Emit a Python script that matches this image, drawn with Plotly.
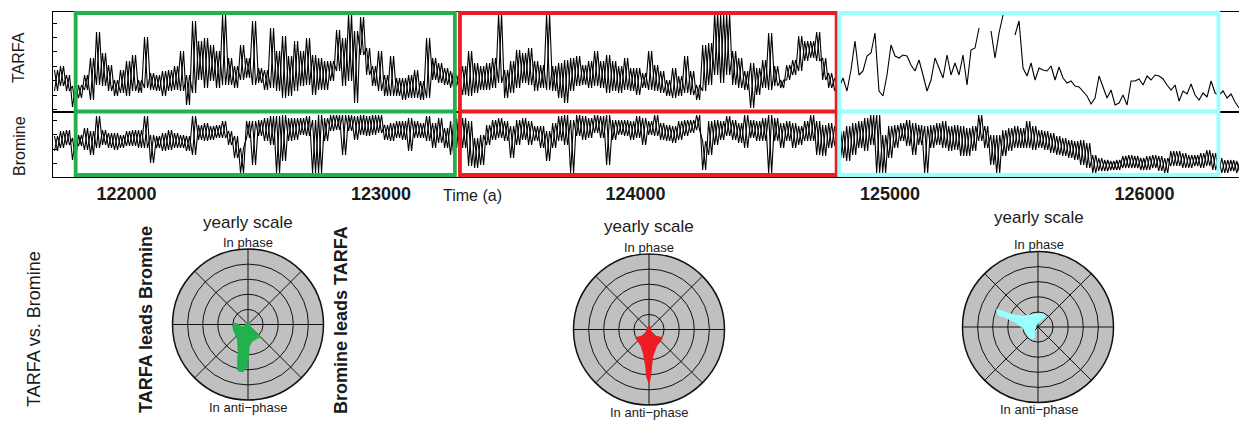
import plotly.graph_objects as go

W, H = 1239, 422

# ---------------- time-series data ----------------
# noisy part is given as the upper / lower envelope of each ~23.6-year bin
T0 = 121711.0          # first year shown
BIN = 23.58            # years per envelope bin
CYAN_T0 = 124815.0     # start of the low-resolution TARFA segment
CYAN_STEP = 15.72      # its sampling step (years)

tarfa_hi = [42, 46, 37, 26, 27, 37, 54, 80, 59, 47, 32, 42, 51, 57, 32, 75, 39, 37, 41, 42, 46, 61, 37, 91, 71, 74, 67, 61, 97, 54, 46, 67, 54,
            91, 44, 42, 84, 61, 76, 56, 71, 61, 74, 57, 54, 51, 51, 82, 74, 98, 81, 95, 64, 46, 61, 37, 56, 34, 34, 37, 42, 31, 74, 54, 49,
            44, 41, 37, 46, 61, 49, 46, 49, 54, 98, 42, 51, 62, 59, 64, 51, 47, 98, 46, 49, 52, 54, 56, 47, 51, 61, 51, 57, 51, 46, 54, 44, 44,
            39, 61, 47, 41, 32, 44, 36, 56, 41, 27, 67, 69, 99, 97, 98, 61, 54, 41, 49, 44, 52, 79, 46, 32, 47, 52, 76, 71, 71, 80, 54, 39, 34]
tarfa_lo = [21, 26, 21, 5, 14, 22, 12, 27, 26, 21, 16, 19, 16, 21, 19, 24, 22, 21, 16, 21, 22, 21, 7, 19, 32, 24, 31, 24, 27, 27, 24, 32, 34,
            27, 29, 22, 24, 21, 14, 16, 21, 26, 27, 17, 22, 22, 31, 41, 26, 31, 9, 57, 37, 26, 21, 16, 16, 16, 12, 14, 14, 12, 14, 32, 29,
            27, 24, 26, 17, 16, 19, 22, 22, 24, 29, 14, 19, 24, 29, 27, 21, 24, 22, 21, 14, 9, 21, 26, 27, 24, 26, 24, 19, 21, 19, 22, 21, 17,
            24, 22, 21, 19, 16, 14, 16, 19, 17, 12, 21, 27, 37, 29, 37, 27, 24, 22, 4, 17, 24, 22, 26, 24, 32, 37, 41, 51, 54, 51, 32, 24, 21]
tarfa_cyan = [34, 21, 42, 71, 37, 41, 56, 59, 79, 21, 16, 37, 67, 56, 54, 57, 56, 47, 41, 52, 37, 21, 32, 54, 44, 34, 57, 37, 49, 37,
              57, 27, 62, 64, 84, None, None, 81, 54, 79, 97, None, None, 77, 91, 44, 36, 49, 32, 44,
              42, 41, 46, 32, 45, 34, 29, 31, 26, 25, 21, 16, 8, 14, 36, 26, 14, 22, 7, 9, 17, 7, 31, 31, 33, 27, 36, 32, 37, 36,
              33, 27, 22, 27, 11, 21, 18, 28, 17, 12, 19, 15, 31, 19, 17, 21, 14, 18, 10, 4]

bromine_hi = [41, 46, 47, 39, 42, 49, 46, 61, 47, 44, 44, 42, 46, 47, 47, 61, 42, 41, 44, 47, 44, 42, 41, 61, 52, 54, 51, 52, 56, 46, 41, 29, 56,
              56, 57, 59, 61, 61, 62, 59, 59, 59, 61, 57, 62, 59, 62, 62, 62, 62, 61, 62, 61, 62, 62, 52, 54, 56, 56, 59, 56, 54, 61, 54, 59,
              49, 56, 59, 59, 56, 39, 42, 52, 57, 59, 56, 51, 57, 59, 56, 51, 51, 46, 54, 61, 62, 57, 62, 61, 59, 62, 61, 62, 57, 57, 57, 56, 61,
              59, 56, 62, 54, 52, 51, 56, 57, 57, 62, 36, 56, 57, 56, 61, 57, 54, 62, 57, 56, 59, 62, 59, 54, 56, 54, 51, 56, 62, 56, 52, 54, 51,
              46, 51, 54, 56, 59, 62, 62, 42, 51, 52, 54, 57, 54, 52, 51, 52, 54, 56, 51, 52, 51, 49, 51, 62, 51, 42, 42, 47, 49, 51, 49, 56, 51,
              47, 46, 44, 41, 39, 37, 36, 37, 34, 22, 19, 17, 16, 17, 21, 22, 21, 19, 21, 22, 21, 19, 26, 26, 24, 22, 22, 24, 27, 24, 19, 17, 17, 16]
bromine_lo = [26, 29, 32, 17, 31, 27, 22, 29, 32, 29, 27, 29, 31, 31, 29, 29, 14, 29, 26, 27, 29, 29, 26, 22, 37, 36, 37, 39, 39, 32, 19, 4, 39,
              12, 41, 36, 32, 4, 16, 36, 37, 42, 41, 4, 4, 36, 46, 47, 22, 46, 37, 42, 41, 42, 44, 37, 36, 39, 37, 26, 39, 39, 36, 29, 34,
              29, 22, 29, 29, 11, 9, 12, 32, 37, 39, 36, 19, 32, 37, 32, 36, 29, 16, 29, 36, 32, 4, 41, 37, 39, 44, 39, 12, 37, 42, 41, 37, 39,
              32, 42, 41, 37, 36, 34, 37, 41, 44, 47, 7, 22, 32, 37, 41, 37, 34, 29, 39, 36, 36, 4, 36, 29, 36, 29, 32, 36, 36, 22, 21, 29, 31,
              19, 16, 22, 29, 26, 32, 4, 4, 19, 29, 36, 31, 22, 32, 4, 29, 32, 29, 26, 27, 21, 21, 26, 36, 29, 12, 4, 21, 26, 29, 29, 29, 27,
              29, 27, 24, 22, 21, 19, 17, 12, 9, 4, 6, 6, 7, 7, 9, 9, 9, 7, 7, 9, 6, 4, 11, 11, 9, 9, 11, 9, 11, 7, 4, 4, 6, 4]

# analysed windows
window_start = [121800, 123310, 124800]
window_end = [123290, 124790, 126290]
window_color = ["#22B14C", "#ED1C24", "#99FFFF"]

xtick_vals = [122000, 123000, 124000, 125000, 126000]
xtick_text = ["122000", "123000", "124000", "125000", "126000"]

# phase roses (angle clockwise from "In phase", radius in ring units)
rose_green_theta = [272, 276, 251, 243, 324, 28, 127, 136, 134, 148, 168, 177, 179, 182, 186, 192, 195, 201, 214, 236, 255]
rose_green_r = [0.98, 0.76, 0.45, 0.22, 0.15, 0.19, 0.17, 0.67, 1.17, 1.09, 1.17, 1.48, 2.14, 2.81, 3.16, 3.14, 2.68, 1.82, 1.24, 1.05, 1.01]
rose_red_theta = [339, 27, 149, 140, 125, 122, 136, 156, 172, 176, 178, 180, 183, 185, 192, 205, 223, 238, 234, 222, 225]
rose_red_r = [0.19, 0.2, 0.26, 0.58, 0.86, 1.05, 1.08, 1.21, 1.8, 2.45, 3.11, 3.56, 3.11, 2.46, 1.7, 1.22, 1.07, 1.05, 0.83, 0.54, 0.25]
rose_cyan_theta = [293, 294, 296, 305, 338, 7, 28, 32, 16, 325, 231, 200, 203, 217, 241, 266, 281, 286, 287]
rose_cyan_r = [2.97, 2.56, 1.86, 1.23, 0.89, 0.9, 0.93, 0.71, 0.39, 0.19, 0.28, 0.66, 0.87, 0.92, 0.84, 1.0, 1.47, 2.2, 2.79]

# ---------------- helpers ----------------
FONT = "Liberation Sans, Arial, sans-serif"
TXT = "#1a1a1a"


def px_x(p):
    return p / W


def px_y(p):
    return 1 - p / H


def envelope(hi, lo, first_bin=0, flip=False):
    """Trace the read envelope of each bin: hi then lo (or lo then hi)."""
    t, v = [], []
    for i, (h, l) in enumerate(zip(hi, lo)):
        k = first_bin + i
        a, b = (l, h) if flip else (h, l)
        t += [T0 + BIN * (k + 0.25), T0 + BIN * (k + 0.75)]
        v += [a, b]
    return t, v


fig = go.Figure()
cyan_t = [CYAN_T0 + CYAN_STEP * i for i in range(len(tarfa_cyan))]
for flip in (False, True):
    tt, tv = envelope(tarfa_hi, tarfa_lo, flip=flip)
    if not flip:
        tt += cyan_t
        tv += tarfa_cyan
    fig.add_trace(go.Scatter(x=tt, y=tv, mode="lines", line=dict(color="black", width=1.1),
                             xaxis="x", yaxis="y", hoverinfo="skip"))
    bt, bv = envelope(bromine_hi, bromine_lo, flip=flip)
    fig.add_trace(go.Scatter(x=bt, y=bv, mode="lines", line=dict(color="black", width=1.1),
                             xaxis="x2", yaxis="y2", hoverinfo="skip"))

roses = [(rose_green_theta, rose_green_r, window_color[0], "polar"),
         (rose_red_theta, rose_red_r, window_color[1], "polar2"),
         (rose_cyan_theta, rose_cyan_r, window_color[2], "polar3")]
for th, r, c, sp in roses:
    fig.add_trace(go.Scatterpolar(theta=th + th[:1], r=r + r[:1], mode="lines", fill="toself",
                                  fillcolor=c, line=dict(color=c, width=1), subplot=sp,
                                  hoverinfo="skip"))

x_dom = [px_x(53), 1.0]
xrange = [121711, 126371]
common_x = dict(range=xrange, domain=x_dom, showline=True, linecolor="black", linewidth=1.2,
                mirror=True, showgrid=False, zeroline=False)

layout = dict(
    width=W, height=H, margin=dict(l=0, r=0, t=0, b=0),
    paper_bgcolor="white", plot_bgcolor="white", showlegend=False,
    font=dict(family=FONT, color=TXT),
    xaxis=dict(**common_x, anchor="y", showticklabels=False, ticks=""),
    yaxis=dict(range=[0, 100], domain=[px_y(112), px_y(12)], anchor="x", showline=True,
               linecolor="black", linewidth=1.2, showgrid=False, zeroline=False,
               tickmode="array", tickvals=[3, 17, 32, 46, 61, 75, 89], ticks="inside",
               ticklen=4, tickcolor="black", showticklabels=False),
    xaxis2=dict(**common_x, anchor="y2", matches="x", tickmode="array", tickvals=xtick_vals,
                ticktext=xtick_text, ticks="inside", ticklen=3, tickcolor="black",
                tickfont=dict(size=18, color=TXT, family=FONT, weight="bold")),
    yaxis2=dict(range=[0, 65], domain=[px_y(177), px_y(112)], anchor="x2", showline=True,
                linecolor="black", linewidth=1.2, showgrid=False, zeroline=False,
                tickmode="array", tickvals=[14, 28, 43, 57], ticks="inside", ticklen=4,
                tickcolor="black", showticklabels=False),
)


def polar_layout(cx, cy, r):
    return dict(
        domain=dict(x=[px_x(cx - r), px_x(cx + r)], y=[px_y(cy + r), px_y(cy - r)]),
        bgcolor="#C0C0C0",
        radialaxis=dict(range=[0, 5], tickvals=[1, 2, 3, 4], showticklabels=False, ticks="",
                        showline=False, gridcolor="#111111", gridwidth=1.4),
        angularaxis=dict(rotation=90, direction="clockwise", tickmode="array",
                         tickvals=[0, 45, 90, 135, 180, 225, 270, 315], showticklabels=False,
                         ticks="", gridcolor="#111111", gridwidth=1.4, showline=True,
                         linecolor="#111111", linewidth=1.5),
    )


layout["polar"] = polar_layout(248, 324.5, 75.5)
layout["polar2"] = polar_layout(649, 329.5, 75.5)
layout["polar3"] = polar_layout(1038, 327, 75.5)

shapes = []
for s, e, c in zip(window_start, window_end, window_color):
    shapes.append(dict(type="rect", xref="x", yref="paper", x0=s, x1=e, y0=px_y(175), y1=px_y(13),
                       line=dict(color=c, width=3.8), fillcolor="rgba(0,0,0,0)", layer="above"))
    shapes.append(dict(type="line", xref="x", yref="paper", x0=s, x1=e, y0=px_y(111.5), y1=px_y(111.5),
                       line=dict(color=c, width=3.8), layer="above"))
layout["shapes"] = shapes


def ann(text, x, y, size, angle=0, weight="normal"):
    return dict(text=text, x=px_x(x), y=px_y(y), xref="paper", yref="paper", showarrow=False,
                xanchor="center", yanchor="middle", textangle=angle,
                font=dict(size=size, color=TXT, family=FONT, weight=weight))


anns = [
    ann("TARFA", 19, 58, 16, -90),
    ann("Bromine", 19, 146, 16, -90),
    ann("Time (a)", 472, 195, 16),
    ann("TARFA vs. Bromine", 34, 329, 18, -90),
    ann("TARFA leads Bromine", 146, 320, 18, -90, "bold"),
    ann("Bromine leads TARFA", 341, 320, 18, -90, "bold"),
]
for cx, ty, py, ay in [(248, 222, 242, 407), (649, 226, 248, 412.5), (1039, 217.5, 244.5, 409.5)]:
    anns.append(ann("yearly scale", cx, ty, 17))
    anns.append(ann("In phase", cx, py, 13))
    anns.append(ann("In anti\u2212phase", cx, ay, 13))
layout["annotations"] = anns

fig.update_layout(**layout)
fig.write_html("out.html")
